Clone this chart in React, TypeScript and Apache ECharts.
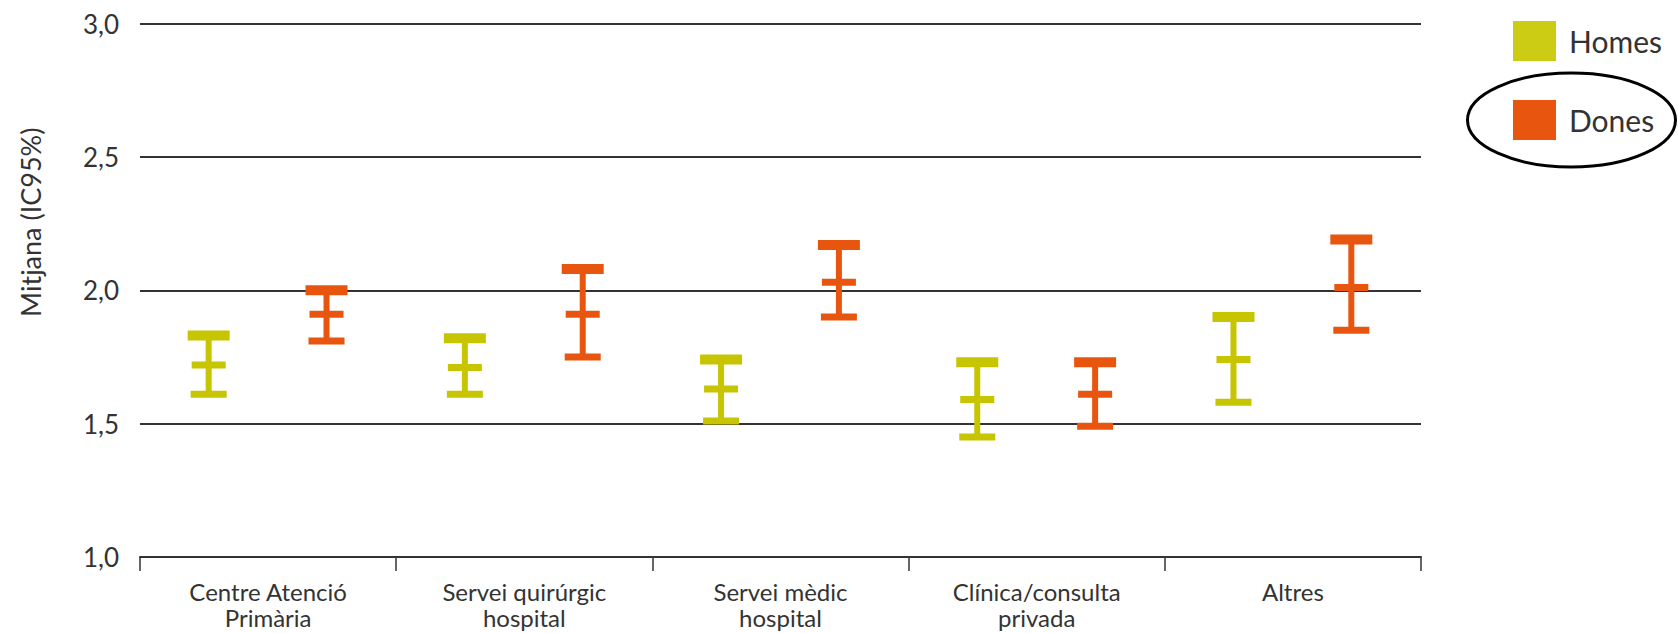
import React, { useEffect, useRef } from "react";
import * as echarts from "echarts";

const categories = [
  "Centre Atenció\nPrimària",
  "Servei quirúrgic\nhospital",
  "Servei mèdic\nhospital",
  "Clínica/consulta\nprivada",
  "Altres",
];
const seriesNames = ["Homes", "Dones"];
const homesLow = [1.61, 1.61, 1.51, 1.45, 1.58];
const homesMean = [1.72, 1.71, 1.63, 1.59, 1.74];
const homesHigh = [1.83, 1.82, 1.74, 1.73, 1.9];
const donesLow = [1.81, 1.75, 1.9, 1.49, 1.85];
const donesMean = [1.91, 1.91, 2.03, 1.61, 2.01];
const donesHigh = [2.0, 2.08, 2.17, 1.73, 2.19];
const yTicks = [1.0, 1.5, 2.0, 2.5, 3.0];

const FONT = "Lato";
const TEXT = "#333333";
const HOMES = "#C6C500";
const DONES = "#E8550F";

function makeRender(offsetFrac: number) {
  return (params: any, api: any) => {
    const idx = api.value(0);
    const low = api.value(1);
    const mean = api.value(2);
    const high = api.value(3);
    const band = api.size([1, 0])[0];
    const cx = api.coord([idx, mean])[0] + offsetFrac * band;
    const yl = api.coord([idx, low])[1];
    const ym = api.coord([idx, mean])[1];
    const yh = api.coord([idx, high])[1];
    const color = api.visual("color");
    const rect = (x: number, y: number, w: number, h: number) => ({
      type: "rect",
      shape: { x, y, width: w, height: h },
      style: { fill: color },
    });
    const topW = 42, midW = 34, botW = 36, vW = 6;
    return {
      type: "group",
      children: [
        rect(cx - vW / 2, yh, vW, yl - yh),
        rect(cx - topW / 2, yh - 5, topW, 10),
        rect(cx - midW / 2, ym - 3.5, midW, 7),
        rect(cx - botW / 2, yl - 3.5, botW, 7),
      ],
    };
  };
}

export default function App() {
  const ref = useRef<HTMLDivElement>(null);
  useEffect(() => {
    if (!ref.current) return;
    const chart = echarts.init(ref.current, null, { renderer: "svg" });
    const homesData = categories.map((_, i) => [i, homesLow[i], homesMean[i], homesHigh[i]]);
    const donesData = categories.map((_, i) => [i, donesLow[i], donesMean[i], donesHigh[i]]);
    chart.setOption({
      animation: false,
      backgroundColor: "#ffffff",
      grid: { left: 140, right: 257, top: 23.5, bottom: 76 },
      legend: {
        orient: "vertical",
        left: 1513,
        top: 21,
        padding: 0,
        itemWidth: 43,
        itemHeight: 40,
        itemGap: 39,
        icon: "rect",
        textStyle: { fontFamily: FONT, fontSize: 30, color: TEXT, padding: [0, 0, 0, 8] },
        data: [
          { name: seriesNames[0], itemStyle: { color: "#CCCC14" } },
          { name: seriesNames[1], itemStyle: { color: "#E8550F" } },
        ],
      },
      xAxis: {
        type: "category",
        data: categories,
        boundaryGap: true,
        axisLine: { show: true, lineStyle: { color: "#333", width: 2 } },
        axisTick: { show: true, length: 14, interval: 0, lineStyle: { color: "#333", width: 1.5 } },
        axisLabel: {
          interval: 0,
          margin: 21,
          fontFamily: FONT,
          fontSize: 24,
          lineHeight: 26.5,
          color: TEXT,
        },
        splitLine: { show: false },
      },
      yAxis: {
        type: "value",
        min: yTicks[0],
        max: yTicks[yTicks.length - 1],
        interval: 0.5,
        name: "Mitjana (IC95%)",
        nameLocation: "middle",
        nameGap: 96,
        nameTextStyle: { fontFamily: FONT, fontSize: 27, color: TEXT, padding: [0, 0, 0, 136] },
        axisLine: { show: false },
        axisTick: { show: false },
        axisLabel: {
          margin: 21,
          fontFamily: FONT,
          fontSize: 26,
          color: TEXT,
          formatter: (v: number) => v.toFixed(1).replace(".", ","),
        },
        splitLine: { show: true, lineStyle: { color: "#333", width: 2 } },
      },
      graphic: [
        {
          type: "ellipse",
          shape: { cx: 1571.5, cy: 120, rx: 104, ry: 47 },
          style: { fill: "none", stroke: "#000", lineWidth: 3 },
          z: 10,
        },
      ],
      series: [
        {
          name: seriesNames[0],
          type: "custom",
          itemStyle: { color: HOMES },
          encode: { x: 0, y: [1, 2, 3] },
          renderItem: makeRender(-0.232),
          data: homesData,
        },
        {
          name: seriesNames[1],
          type: "custom",
          itemStyle: { color: DONES },
          encode: { x: 0, y: [1, 2, 3] },
          renderItem: makeRender(0.228),
          data: donesData,
        },
      ],
    });
    return () => chart.dispose();
  }, []);
  return (
    <div
      ref={ref}
      style={{ position: "fixed", left: 0, top: 0, width: 1678, height: 633, background: "#fff" }}
    />
  );
}
